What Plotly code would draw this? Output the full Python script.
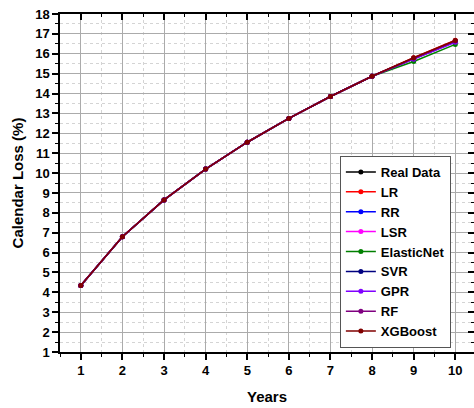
import plotly.graph_objects as go

years = [1, 2, 3, 4, 5, 6, 7, 8, 9, 10]
base = [4.34, 6.80, 8.65, 10.20, 11.55, 12.75, 13.85, 14.87]
real_data = base + [15.78, 16.65]
lr = base + [15.80, 16.68]
rr = base + [15.76, 16.63]
lsr = base + [15.74, 16.60]
elasticnet = base + [15.61, 16.47]
svr = base + [15.75, 16.62]
gpr = base + [15.73, 16.58]
rf = base + [15.77, 16.64]
xgboost = base + [15.80, 16.67]

series = [
    ("Real Data", real_data, "#000000"),
    ("LR", lr, "#ff0000"),
    ("RR", rr, "#0000ff"),
    ("LSR", lsr, "#ff00ff"),
    ("ElasticNet", elasticnet, "#008000"),
    ("SVR", svr, "#000080"),
    ("GPR", gpr, "#8000ff"),
    ("RF", rf, "#800080"),
    ("XGBoost", xgboost, "#800000"),
]

FONT = "Arial, Liberation Sans, sans-serif"

fig = go.Figure()
for name, vals, color in series:
    fig.add_trace(go.Scatter(
        x=years, y=vals, name=name, mode="lines+markers",
        line=dict(color=color, width=1.5),
        marker=dict(color=color, size=5, symbol="circle"),
    ))

# invisible trace to activate mirror axes
fig.add_trace(go.Scatter(x=[1], y=[1], xaxis="x2", yaxis="y2", showlegend=False,
                         mode="markers", marker=dict(opacity=0), hoverinfo="skip"))

axis_common = dict(
    showline=True, linecolor="black", linewidth=1.5,
    tickfont=dict(family=FONT, size=13, color="black", weight="bold"),
    zeroline=False, automargin=False,
)

fig.update_layout(
    width=474, height=408,
    margin=dict(l=60, r=0, t=14, b=56),
    paper_bgcolor="white", plot_bgcolor="white",
    font=dict(family=FONT, color="black"),
    xaxis=dict(
        range=[0.5, 10.45], dtick=1, tick0=1,
        ticks="outside", ticklen=6, tickwidth=1.5, tickcolor="black",
        showgrid=True, gridcolor="#ababab", gridwidth=1,
        minor=dict(dtick=0.5, tick0=0.5, ticks="outside", ticklen=3, tickwidth=1.2,
                   tickcolor="black", showgrid=True, gridcolor="#d4d4d4", griddash="dot"),
        title=dict(text="Years", font=dict(family=FONT, size=15, weight="bold"), standoff=14),
        **axis_common,
    ),
    yaxis=dict(
        range=[1, 18], dtick=1, tick0=1,
        ticks="outside", ticklen=6, tickwidth=1.5, tickcolor="black",
        showgrid=True, gridcolor="#ababab", gridwidth=1,
        minor=dict(dtick=0.5, tick0=0.5, ticks="outside", ticklen=3, tickwidth=1.2,
                   tickcolor="black", showgrid=True, gridcolor="#d4d4d4", griddash="dot"),
        title=dict(text="Calendar Loss (%)", font=dict(family=FONT, size=15, weight="bold"), standoff=8),
        **axis_common,
    ),
    xaxis2=dict(
        overlaying="x", side="top", matches="x", showticklabels=False, automargin=False,
        ticks="inside", ticklen=6, tickwidth=1.5, tickcolor="black", dtick=1, tick0=1,
        minor=dict(dtick=0.5, tick0=0.5, ticks="inside", ticklen=3, tickwidth=1.2, tickcolor="black"),
        showgrid=False, showline=True, linecolor="black", linewidth=1.5, zeroline=False,
    ),
    yaxis2=dict(
        overlaying="y", side="right", matches="y", showticklabels=False, automargin=False,
        ticks="inside", ticklen=6, tickwidth=1.5, tickcolor="black", dtick=1, tick0=1,
        minor=dict(dtick=0.5, tick0=0.5, ticks="inside", ticklen=3, tickwidth=1.2, tickcolor="black"),
        showgrid=False, showline=False, zeroline=False,
    ),
    legend=dict(
        x=0.676, y=0.58, xanchor="left", yanchor="top",
        bgcolor="white", bordercolor="#555555", borderwidth=1,
        font=dict(family=FONT, size=13, color="black", weight="bold"),
        tracegroupgap=0, itemwidth=30,
    ),
    showlegend=True,
)

fig.write_html(
    "out.html",
    config={"displayModeBar": False},
    post_script="document.body.style.margin='0';document.body.style.overflow='hidden';",
)
